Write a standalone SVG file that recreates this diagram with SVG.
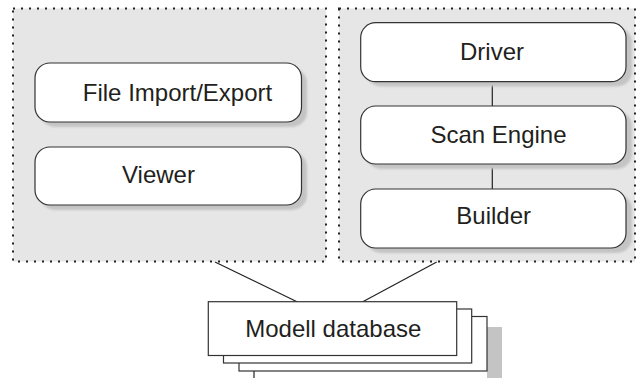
<svg xmlns="http://www.w3.org/2000/svg" width="642" height="378" viewBox="0 0 642 378">
  <style>
    .panel { fill: #e6e6e7; stroke: #222; stroke-width: 2; stroke-dasharray: 2 6; }
    .shadow { fill: #c4c4c4; }
    .box { fill: #fff; stroke: #333; stroke-width: 1.2; }
    .page { fill: #fff; stroke: #333; stroke-width: 1.2; }
    .label { font-family: "Liberation Sans", Arial, sans-serif; font-size: 24px; fill: #231f20; text-anchor: middle; }
    .link { stroke: #222; stroke-width: 1.2; fill: none; }
  </style>
  <defs>
    <filter id="soft" x="-10%" y="-10%" width="120%" height="130%">
      <feGaussianBlur stdDeviation="1"/>
    </filter>
  </defs>

  <!-- container panels -->
  <g id="panel-ui">
    <rect class="panel" x="13" y="8.5" width="313" height="253"/>
  </g>
  <g id="panel-scan">
    <rect class="panel" x="339" y="8.5" width="296" height="253"/>
  </g>

  <!-- connectors -->
  <g id="connectors">
    <line class="link" x1="492.3" y1="81.5" x2="492.3" y2="106"/>
    <line class="link" x1="492.3" y1="164" x2="492.3" y2="189"/>
    <line class="link" x1="215" y1="262" x2="297.5" y2="302"/>
    <line class="link" x1="436.7" y1="262" x2="362.3" y2="302"/>
  </g>

  <g id="file-import-export">
    <rect class="shadow" filter="url(#soft)" x="40" y="68" width="267" height="59" rx="15"/>
    <rect class="box" x="35" y="63" width="266.5" height="59" rx="15"/>
    <text class="label" x="177.5" y="100.5">File Import/Export</text>
  </g>

  <g id="viewer">
    <rect class="shadow" filter="url(#soft)" x="40" y="152" width="267" height="58" rx="15"/>
    <rect class="box" x="35" y="147" width="266.5" height="58" rx="15"/>
    <text class="label" x="158.5" y="183.3">Viewer</text>
  </g>

  <g id="driver">
    <rect class="shadow" filter="url(#soft)" x="366" y="27.5" width="266" height="59" rx="15"/>
    <rect class="box" x="360.7" y="22.7" width="265.3" height="59" rx="15"/>
    <text class="label" x="492" y="60">Driver</text>
  </g>

  <g id="scan-engine">
    <rect class="shadow" filter="url(#soft)" x="366" y="111" width="266" height="58" rx="15"/>
    <rect class="box" x="360.7" y="106" width="265.3" height="58" rx="15"/>
    <text class="label" x="498.5" y="143.3">Scan Engine</text>
  </g>

  <g id="builder">
    <rect class="shadow" filter="url(#soft)" x="366" y="194" width="266" height="59" rx="15"/>
    <rect class="box" x="360.7" y="189" width="265.3" height="59" rx="15"/>
    <text class="label" x="493.7" y="224">Builder</text>
  </g>

  <!-- stacked pages of the database; the back page shows only its left edge and a shaded side -->
  <g id="modell-database">
    <rect class="shadow" x="487" y="327" width="15" height="55"/>
    <line class="link" x1="254" y1="324" x2="254" y2="380"/>
    <rect class="page" x="239" y="316.5" width="248" height="54.5"/>
    <rect class="page" x="223.5" y="309" width="248.2" height="54"/>
    <rect class="page" x="208.3" y="301.7" width="248.4" height="53.8"/>
    <text class="label" x="333.3" y="337.3">Modell database</text>
  </g>
</svg>
